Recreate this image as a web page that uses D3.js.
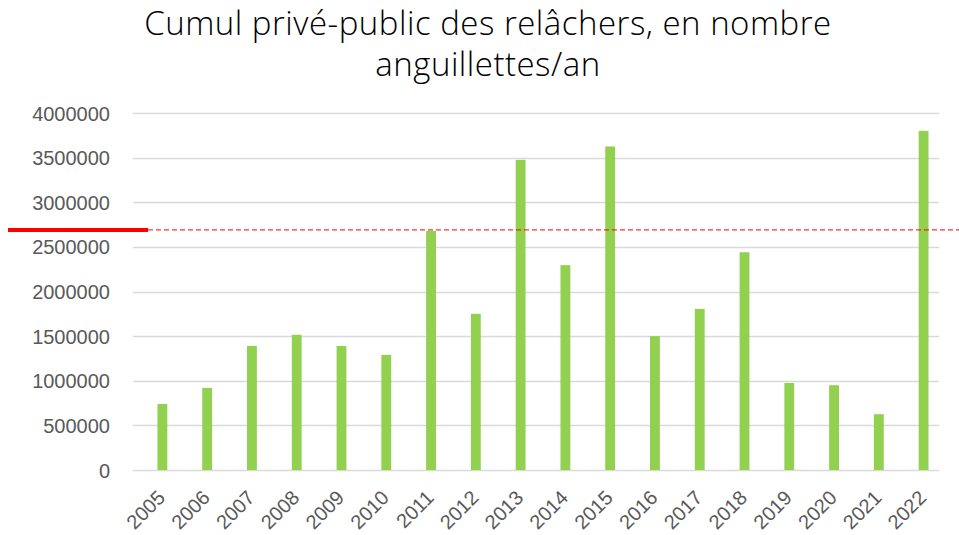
<!DOCTYPE html>
<html>
<head>
<meta charset="utf-8">
<script src="https://cdn.jsdelivr.net/npm/d3@7"></script>
<style>
  body { margin: 0; background: #fff; }
  svg { display: block; }
</style>
</head>
<body>
<div id="chart"></div>
<script>
// values
const years = ["2005","2006","2007","2008","2009","2010","2011","2012","2013",
               "2014","2015","2016","2017","2018","2019","2020","2021","2022"];
const releases = [740000, 920000, 1390000, 1515000, 1390000, 1290000, 2680000, 1750000, 3475000,
                  2295000, 3625000, 1500000, 1805000, 2440000, 975000, 950000, 625000, 3800000];
const yTicks = [0, 500000, 1000000, 1500000, 2000000, 2500000, 3000000, 3500000, 4000000];
const threshold = 2690000;

const W = 959, H = 535;

const svg = d3.select("#chart").append("svg")
    .attr("width", W)
    .attr("height", H);

const y = d3.scaleLinear()
    .domain([0, 4000000])
    .range([470, 113]);

const x = d3.scaleBand()
    .domain(years)
    .range([140, 946])
    .paddingInner(0.78)
    .paddingOuter(0.39);

// title
const title = svg.append("text")
    .attr("text-anchor", "middle")
    .style("font-family", "'Open Sans', sans-serif")
    .style("font-weight", 300)
    .style("font-size", "33px")
    .style("letter-spacing", "0.5px")
    .attr("fill", "#000");
title.append("tspan").attr("x", 488).attr("y", 35).text("Cumul privé-public des relâchers, en nombre");
title.append("tspan").attr("x", 488).attr("y", 76).text("anguillettes/an");

// gridlines
svg.append("g")
    .selectAll("line")
    .data(yTicks)
    .enter().append("line")
    .attr("x1", 133)
    .attr("x2", 939)
    .attr("y1", d => Math.round(y(d)) + 0.5)
    .attr("y2", d => Math.round(y(d)) + 0.5)
    .attr("stroke", "#d9d9d9")
    .attr("stroke-width", 1.5);

// y axis labels
const yAxis = svg.append("g")
    .attr("transform", "translate(110,0)")
    .call(d3.axisLeft(y).tickValues(yTicks).tickSize(0).tickPadding(0).tickFormat(d3.format("d")));
yAxis.select(".domain").remove();
yAxis.selectAll("text")
    .attr("dy", "0.35em")
    .style("font-family", "'Liberation Sans', Arial, sans-serif")
    .style("font-size", "20px")
    .attr("fill", "#595959");

// bars
svg.append("g")
    .selectAll("rect")
    .data(years)
    .enter().append("rect")
    .attr("x", d => x(d))
    .attr("width", x.bandwidth())
    .attr("y", (d, i) => y(releases[i]))
    .attr("height", (d, i) => y(0) - y(releases[i]))
    .attr("fill", "#92d050");

// x axis labels
const xAxis = svg.append("g")
    .attr("transform", "translate(0,480)")
    .call(d3.axisBottom(x).tickSize(0).tickPadding(0));
xAxis.select(".domain").remove();
xAxis.selectAll("text")
    .attr("text-anchor", "end")
    .attr("transform", "translate(-1,14) rotate(-45)")
    .attr("dy", "0.35em")
    .style("font-family", "'Liberation Sans', Arial, sans-serif")
    .style("font-size", "20px")
    .attr("fill", "#595959");

// threshold: thick marker on the left + dashed line across
svg.append("line")
    .attr("x1", 8)
    .attr("x2", 148)
    .attr("y1", y(threshold))
    .attr("y2", y(threshold))
    .attr("stroke", "#ff0000")
    .attr("stroke-width", 4);

svg.append("line")
    .attr("x1", 148)
    .attr("x2", W)
    .attr("y1", y(threshold))
    .attr("y2", y(threshold))
    .attr("stroke", "#ff0000")
    .attr("stroke-width", 1)
    .attr("stroke-dasharray", "5,3");
</script>
</body>
</html>
